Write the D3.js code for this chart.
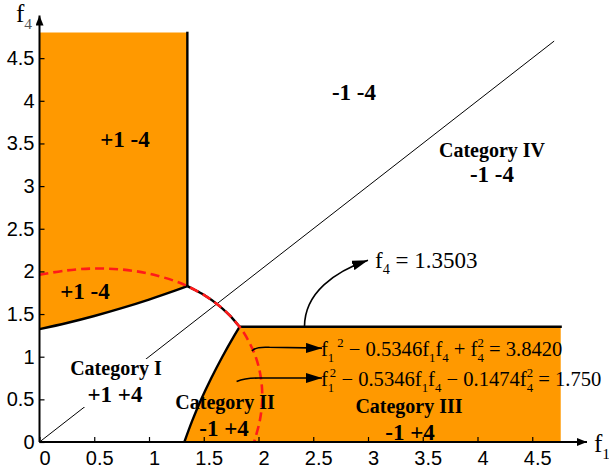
<!DOCTYPE html>
<html>
<head>
<meta charset="utf-8">
<script src="https://cdn.jsdelivr.net/npm/d3@7"></script>
<style>
  html, body { margin: 0; padding: 0; background: #fff; }
  svg { display: block; }
  text { white-space: pre; }
</style>
</head>
<body>
<svg id="chart" width="609" height="468"></svg>
<script>
// ---------------- data ----------------
const xTickValues = [0, 0.5, 1, 1.5, 2, 2.5, 3, 3.5, 4, 4.5];
const yTickValues = [0, 0.5, 1, 1.5, 2, 2.5, 3, 3.5, 4, 4.5];
const tickLabels  = ["0", "0.5", "1", "1.5", "2", "2.5", "3", "3.5", "4", "4.5"];

// boundary between Category I and the upper-left "+1 -4" region (f4 vs f1)
const boundaryLeft  = [[0, 1.323], [0.25, 1.395], [0.5, 1.477], [0.75, 1.569], [1, 1.670], [1.25, 1.780], [1.3503, 1.827]];
// boundary between Category I and Category II (f1 vs f4)
const boundaryRight = [[1.323, 0], [1.395, 0.25], [1.477, 0.5], [1.569, 0.75], [1.670, 1], [1.780, 1.25], [1.827, 1.3503]];
// black arc between the two corners
const cornerArc     = [[1.3503, 1.827], [1.467, 1.75], [1.5, 1.725], [1.619, 1.619], [1.725, 1.5], [1.75, 1.467], [1.827, 1.3503]];
// red dashed curve
const redCurve = [[0, 1.960], [0.25, 2.012], [0.5, 2.034], [0.75, 2.022], [1, 1.974], [1.25, 1.881], [1.3503, 1.827],
                  [1.5, 1.725], [1.619, 1.619], [1.725, 1.5], [1.827, 1.3503], [1.881, 1.25], [1.974, 1],
                  [2.022, 0.75], [2.034, 0.5], [2.012, 0.25], [1.960, 0]];
const f1Threshold = 1.3503;   // vertical boundary
const f4Threshold = 1.3503;   // horizontal boundary
const regionTop   = 4.8;
const regionRight = 4.76;
const diagonal    = [[0, 0], [4.7, 4.7]];

// ---------------- scales ----------------
const svg = d3.select("#chart");
const x = d3.scaleLinear().domain([0, 5]).range([39.5, 587]);
const y = d3.scaleLinear().domain([0, 5]).range([442, 15.5]);
const ORANGE = "#ff9900";
const serif = '"Liberation Serif", "Times New Roman", serif';
const sans  = '"Liberation Sans", Arial, Helvetica, sans-serif';

const line = d3.line().x(d => x(d[0])).y(d => y(d[1]));
const smooth = d3.line().x(d => x(d[0])).y(d => y(d[1])).curve(d3.curveCatmullRom.alpha(0.5));

// markers
const defs = svg.append("defs");
defs.append("marker").attr("id", "axisArrow").attr("viewBox", "0 0 10 8")
  .attr("refX", 10).attr("refY", 4).attr("markerWidth", 10).attr("markerHeight", 8)
  .attr("markerUnits", "userSpaceOnUse").attr("orient", "auto")
  .append("path").attr("d", "M0,0 L10,4 L0,8 Z").attr("fill", "#000");
defs.append("marker").attr("id", "annArrow").attr("viewBox", "0 0 16 10")
  .attr("refX", 16).attr("refY", 5).attr("markerWidth", 16).attr("markerHeight", 10)
  .attr("markerUnits", "userSpaceOnUse").attr("orient", "auto")
  .append("path").attr("d", "M0,0 L16,5 L0,10 Z").attr("fill", "#000");

// ---------------- regions ----------------
const leftPoly = [[0, regionTop], [f1Threshold, regionTop]].concat(boundaryLeft.slice().reverse());
svg.append("path").attr("d", line(leftPoly) + "Z").attr("fill", ORANGE);

const cornerR = boundaryRight[boundaryRight.length - 1];
svg.append("path")
  .attr("d", line([[cornerR[0], f4Threshold], [regionRight, f4Threshold], [regionRight, 0]]) +
             smooth(boundaryRight).replace(/^M/, "L") + "Z")
  .attr("fill", ORANGE);

// diagonal
svg.append("path").attr("d", line(diagonal)).attr("stroke", "#000").attr("stroke-width", 1).attr("fill", "none");

// black boundaries
const bnd = svg.append("g").attr("fill", "none").attr("stroke", "#000").attr("stroke-width", 2.4).attr("stroke-linejoin", "round");
bnd.append("path").attr("d", smooth(boundaryLeft));
bnd.append("path").attr("d", smooth(boundaryRight));
bnd.append("path").attr("d", smooth(cornerArc));
bnd.append("path").attr("d", line([[f1Threshold, 1.827], [f1Threshold, 4.81]]));
bnd.append("path").attr("d", line([[cornerR[0], f4Threshold], [4.77, f4Threshold]]));

// red dashed
svg.append("path").attr("d", smooth(redCurve)).attr("fill", "none").attr("stroke", "#ff1a1a")
  .attr("stroke-width", 2.6).attr("stroke-dasharray", "9,5");

// ---------------- axes ----------------
const xAxis = d3.axisBottom(x).tickValues(xTickValues).tickFormat((d, i) => tickLabels[i]).tickSize(-5).tickPadding(9);
const gx = svg.append("g").attr("transform", `translate(0,${y(0)})`).call(xAxis);
gx.select(".domain").remove();
gx.selectAll("line").attr("stroke", "#000").attr("stroke-width", 1.2);
gx.selectAll("text").attr("dx", 5).style("font-family", sans).style("font-size", "20px").attr("fill", "#000");

const yAxis = d3.axisLeft(y).tickValues(yTickValues).tickFormat((d, i) => tickLabels[i]).tickSize(-5).tickPadding(5);
const gy = svg.append("g").attr("transform", `translate(${x(0)},0)`).call(yAxis);
gy.select(".domain").remove();
gy.selectAll("line").attr("stroke", "#000").attr("stroke-width", 1.2);
gy.selectAll("text").style("font-family", sans).style("font-size", "20px").attr("fill", "#000");

svg.append("line").attr("x1", x(0)).attr("y1", y(0)).attr("x2", x(5)).attr("y2", y(0))
  .attr("stroke", "#000").attr("stroke-width", 2).attr("marker-end", "url(#axisArrow)");
svg.append("line").attr("x1", x(0)).attr("y1", y(0)).attr("x2", x(0)).attr("y2", y(5))
  .attr("stroke", "#000").attr("stroke-width", 2).attr("marker-end", "url(#axisArrow)");

// ---------------- rich text helper ----------------
function rich(parent, px, py, size, parts) {
  const t = parent.append("text").attr("x", px).attr("y", py)
    .style("font-family", serif).style("font-size", size + "px").attr("fill", "#000");
  let cur = 0, lastSub = null;
  parts.forEach(([s, m, extra]) => {
    const ts = t.append("tspan").text(s);
    let off = 0, fs = size;
    if (m === "sub") { off = 0.28 * size; fs = 0.62 * size; }
    if (m === "sup" || m === "stack") { off = -0.42 * size; fs = 0.62 * size; }
    ts.style("font-size", fs + "px").attr("dy", off - cur);
    let dx = extra || 0;
    if (m === "stack" && lastSub) dx -= lastSub.node().getComputedTextLength();
    if (dx) ts.attr("dx", dx);
    cur = off;
    lastSub = (m === "sub") ? ts : null;
  });
  return t;
}

// axis titles
rich(svg, 16, 22, 25, [["f"], ["4", "sub"]]).select("tspan:nth-child(2)").attr("fill", "#555");
rich(svg, 594, 452, 25, [["f"], ["1", "sub"]]);

// ---------------- region labels ----------------
function label(txt, px, py, size) {
  return svg.append("text").attr("x", px).attr("y", py).attr("text-anchor", "middle")
    .style("font-family", serif).style("font-weight", "bold").style("font-size", size + "px")
    .attr("fill", "#000").text(txt);
}
// white backing behind Category I labels (the diagonal is interrupted there)
svg.append("rect").attr("x", 68).attr("y", 359).attr("width", 96).attr("height", 48).attr("fill", "#fff");

label("+1 -4", 125, 147, 23);
label("+1 -4", 85, 299, 23);
label("-1 -4", 354, 100, 23);
label("Category IV", 492, 157, 20);
label("-1 -4", 492, 182, 23);
label("Category I", 116, 375, 20);
label("+1 +4", 115, 402, 23);
label("Category II", 225, 409, 20);
label("-1 +4", 224, 436, 23);
label("Category III", 409, 413, 20);
label("-1 +4", 410, 440, 23);

// ---------------- annotations ----------------
const ann = svg.append("g").attr("fill", "none").attr("stroke", "#000").attr("stroke-width", 1.6);
ann.append("path").attr("marker-end", "url(#annArrow)")
  .attr("d", `M${x(2.42)},${y(f4Threshold)} C${x(2.42)},${y(1.75)} ${x(2.7)},${y(2.0)} ${x(3.0)},${y(2.13)}`);
ann.append("path").attr("marker-end", "url(#annArrow)")
  .attr("d", `M${x(1.94)},${y(1.065)} Q${x(1.97)},${y(1.12)} ${x(2.1)},${y(1.11)} L${x(2.58)},${y(1.10)}`);
ann.append("path").attr("marker-end", "url(#annArrow)")
  .attr("d", `M${x(1.8)},${y(0.71)} Q${x(1.88)},${y(0.75)} ${x(2.0)},${y(0.75)} L${x(2.58)},${y(0.75)}`);

rich(svg, 375, 268, 23, [["f"], ["4", "sub"], [" = 1.3503"]]);
rich(svg, 321, 356, 20.6, [["f"], ["1", "sub"], ["2", "sup", 3], [" − 0.5346f"], ["1", "sub"], ["f"], ["4", "sub"],
  [" + f"], ["4", "sub"], ["2", "stack"], [" = 3.8420"]]);
rich(svg, 321, 386, 20.6, [["f"], ["1", "sub"], ["2", "stack", 2], [" − 0.5346f"], ["1", "sub"], ["f"], ["4", "sub"],
  [" − 0.1474f"], ["4", "sub"], ["2", "stack"], [" = 1.750"]]);
</script>
</body>
</html>
